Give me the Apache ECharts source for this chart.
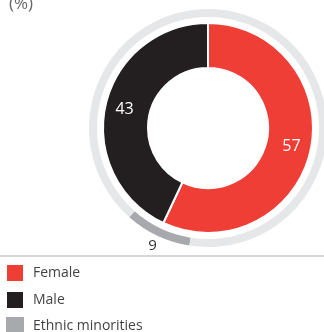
<!DOCTYPE html>
<html>
<head>
<meta charset="utf-8">
<script src="https://cdn.jsdelivr.net/npm/echarts@6/dist/echarts.min.js"></script>
<style>
  html, body { margin: 0; padding: 0; background: #fff; }
  #chart { width: 324px; height: 332px; }
</style>
</head>
<body>
<div id="chart"></div>
<script>
// Gender split of the workforce (%) and share of ethnic minorities
const genderNames = ['Female', 'Male'];
const genderValues = [57, 43];
const minorityName = 'Ethnic minorities';
const minorityValue = 9;
const unitLabel = '(%)';

const colors = {
  Female: '#ee3e35',
  Male: '#231f20',
  minority: '#a7a9ac',
  ring: '#e6e7e8'
};

const FONT = '"Open Sans", "Noto Sans", sans-serif';
const center = [208, 128];

// outer thin ring: minority share followed by the remainder of 100
const ringData = [
  { name: minorityName, value: minorityValue, itemStyle: { color: colors.minority } },
  { name: 'rest', value: 100 - minorityValue, itemStyle: { color: colors.ring } }
];
// the ring's arc starts a little past the bottom, left of centre
const ringStart = 261;

const chart = echarts.init(document.getElementById('chart'), null, { renderer: 'canvas' });

chart.setOption({
  animation: false,
  title: {
    text: unitLabel,
    left: 4,
    top: -9,
    textStyle: { fontFamily: FONT, fontSize: 17, fontWeight: 'normal', color: '#666' }
  },
  legend: {
    orient: 'vertical',
    left: 5,
    top: 263,
    height: 120,
    padding: 0,
    itemWidth: 18,
    itemHeight: 18,
    itemGap: 7,
    icon: 'rect',
    data: [genderNames[0], genderNames[1], minorityName],
    textStyle: { fontFamily: FONT, fontSize: 14, color: '#444', padding: [0, 0, 0, 4] },
    selectedMode: false
  },
  graphic: [{
    type: 'line',
    shape: { x1: 0, y1: 256, x2: 324, y2: 256 },
    style: { stroke: '#c8c8c8', lineWidth: 1.5 }
  }],
  series: [
    {
      type: 'pie',
      center: center,
      radius: [60, 105],
      startAngle: 90,
      clockwise: true,
      silent: true,
      itemStyle: { borderColor: '#fff', borderWidth: 2 },
      label: {
        show: true,
        position: 'inside',
        formatter: '{c}',
        color: '#fff',
        fontFamily: FONT,
        fontSize: 16
      },
      labelLine: { show: false },
      data: genderNames.map((n, i) => ({
        name: n, value: genderValues[i], itemStyle: { color: colors[n] }
      }))
    },
    {
      type: 'pie',
      center: center,
      radius: [111, 119],
      startAngle: ringStart,
      clockwise: true,
      silent: true,
      label: { show: false },
      labelLine: { show: false },
      data: ringData
    },
    {
      // transparent band that only carries the minority value label
      type: 'pie',
      center: center,
      radius: [119, 135],
      startAngle: ringStart,
      clockwise: true,
      silent: true,
      legendHoverLink: false,
      itemStyle: { color: 'rgba(0,0,0,0)' },
      label: {
        show: true,
        position: 'inside',
        color: '#333',
        fontFamily: FONT,
        fontSize: 15,
        formatter: p => (p.dataIndex === 0 ? String(p.value) : '')
      },
      labelLine: { show: false },
      data: ringData.map(d => ({ name: d.name === minorityName ? 'label' : d.name, value: d.value }))
    }
  ]
});
</script>
</body>
</html>
